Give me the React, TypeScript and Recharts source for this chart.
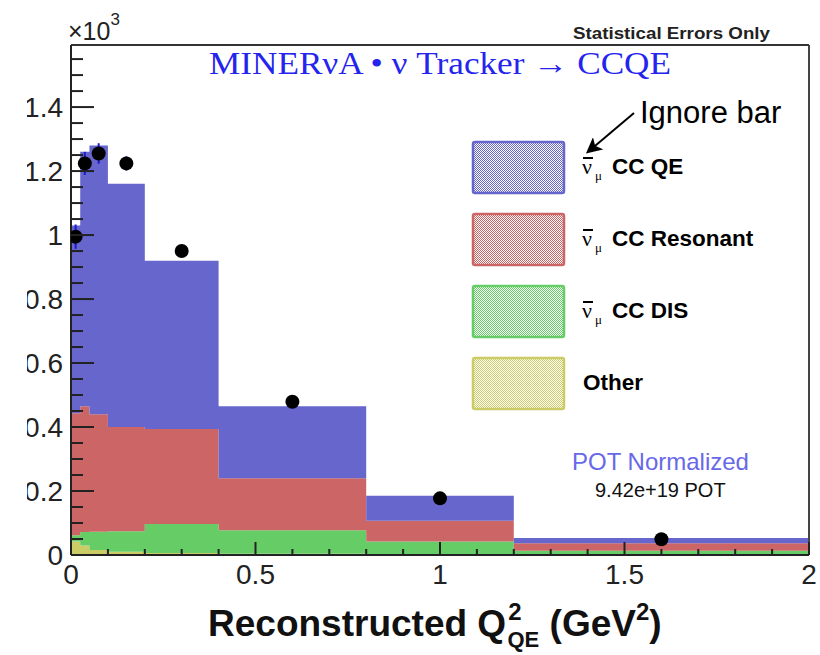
import React from "react";
import {
  ComposedChart,
  Area,
  Scatter,
  ErrorBar,
  XAxis,
  YAxis,
  ReferenceLine,
} from "recharts";

// bin edges of the reconstructed Q2 histogram (GeV^2)
const binEdges = [0, 0.025, 0.05, 0.1, 0.2, 0.4, 0.8, 1.2, 2.0];

// MC components per bin (events)
const ccqe = [587, 795, 840, 760, 526, 225, 78, 16];
const resonant = [381, 393, 367, 326, 297, 163, 65, 24];
const dis = [20, 42, 57, 64, 91, 73, 39, 11];
const other = [42, 30, 16, 10, 6, 4, 3, 2];

// data points
const dataX = [0.0125, 0.0375, 0.075, 0.15, 0.3, 0.6, 1.0, 1.6];
const dataY = [995, 1224, 1255, 1224, 950, 479, 177, 49];
const dataErr = [38, 36, 32, 22, 18, 12, 8, 4];

const Y_MAX = 1594;
const yTicks = Array.from({ length: 32 }, (_, i) => i * 50);
const xTicks = Array.from({ length: 21 }, (_, i) => i / 10);

const legendItems = [
  { label: "CC QE", color: "#6666cc", nu: true },
  { label: "CC Resonant", color: "#cc6666", nu: true },
  { label: "CC DIS", color: "#66cc66", nu: true },
  { label: "Other", color: "#cccc66", nu: false },
];

const histData = binEdges.map((x, i) => {
  const k = Math.min(i, ccqe.length - 1);
  return { x, other: other[k], dis: dis[k], res: resonant[k], qe: ccqe[k] };
});

const points = dataX.map((x, i) => ({ x, y: dataY[i], err: dataErr[i] }));

const SANS = "Liberation Sans, Arial, sans-serif";
const SERIF = "Liberation Serif, Times New Roman, serif";

const YTick = (props: any) => {
  const { x, y, payload } = props;
  const v = payload.value as number;
  const major = v % 200 === 0;
  const ax = x + 8;
  return (
    <g>
      <line x1={ax} x2={ax + (major ? 23 : 12)} y1={y} y2={y} stroke="#222" strokeWidth={2} />
      {major && (
        <text x={x} y={y} dy={10} textAnchor="end" fontSize={28} fill="#222" fontFamily={SANS}>
          {String(v / 1000)}
        </text>
      )}
    </g>
  );
};

const XTick = (props: any) => {
  const { x, y, payload } = props;
  const v = payload.value as number;
  const major = Math.round(v * 10) % 5 === 0;
  return (
    <g>
      <line x1={x} x2={x} y1={y} y2={y - (major ? 13 : 6)} stroke="#222" strokeWidth={2} />
      {major && (
        <text x={x} y={y + 29} textAnchor="middle" fontSize={28} fill="#222" fontFamily={SANS}>
          {String(v)}
        </text>
      )}
    </g>
  );
};

const Dot = (props: any) => <circle cx={props.cx} cy={props.cy} r={7} fill="#000" />;

export default function App() {
  return (
    <div style={{ position: "absolute", left: 0, top: 0, width: 820, height: 655, background: "#fff" }}>
      <ComposedChart
        width={820}
        height={655}
        data={histData}
        margin={{ top: 45, right: 11, bottom: 0, left: 0 }}
      >
        <Area dataKey="other" stackId="mc" type="stepAfter" fill="#cccc66" fillOpacity={1} stroke="none" isAnimationActive={false} />
        <Area dataKey="dis" stackId="mc" type="stepAfter" fill="#66cc66" fillOpacity={1} stroke="none" isAnimationActive={false} />
        <Area dataKey="res" stackId="mc" type="stepAfter" fill="#cc6666" fillOpacity={1} stroke="none" isAnimationActive={false} />
        <Area dataKey="qe" stackId="mc" type="stepAfter" fill="#6666cc" fillOpacity={1} stroke="none" isAnimationActive={false} />
        <Scatter data={points} dataKey="y" shape={Dot} isAnimationActive={false}>
          <ErrorBar dataKey="err" direction="y" width={0} stroke="#1a1acc" strokeWidth={2} isAnimationActive={false} />
        </Scatter>
        <XAxis
          dataKey="x"
          type="number"
          domain={[0, 2]}
          allowDataOverflow
          ticks={xTicks}
          interval={0}
          height={100}
          tickSize={0}
          tickMargin={0}
          tick={XTick}
          axisLine={{ stroke: "#222", strokeWidth: 2 }}
        />
        <YAxis
          type="number"
          domain={[0, Y_MAX]}
          allowDataOverflow
          ticks={yTicks}
          interval={0}
          width={71}
          tickSize={0}
          tickMargin={8}
          tick={YTick}
          axisLine={{ stroke: "#222", strokeWidth: 2 }}
        />
        <ReferenceLine y={Y_MAX} stroke="#333" strokeWidth={2} />
        <ReferenceLine x={2} stroke="#444" strokeWidth={2} />
      </ComposedChart>

      <svg width={820} height={655} style={{ position: "absolute", left: 0, top: 0, pointerEvents: "none" }}>
        <defs>
          {legendItems.map((it, i) => (
            <pattern key={i} id={`chk${i}`} width={2} height={2} patternUnits="userSpaceOnUse">
              <rect width={2} height={2} fill="#fff" />
              <rect width={1} height={1} fill={it.color} />
              <rect x={1} y={1} width={1} height={1} fill={it.color} />
            </pattern>
          ))}
          <marker id="head" markerWidth={8} markerHeight={8} refX={6} refY={4} orient="auto" markerUnits="strokeWidth">
            <path d="M0,0 L8,4 L0,8 L2,4 z" fill="#000" />
          </marker>
        </defs>

        <rect x={0} y={0} width={27} height={655} fill="#fff" />

        <text x={68} y={40} fontSize={25} fill="#222" fontFamily={SANS}>
          ×10<tspan dy={-15} fontSize={17}>3</tspan>
        </text>
        <text x={770} y={39} textAnchor="end" fontSize={17} fontWeight="bold" fill="#222" fontFamily={SANS} textLength={197} lengthAdjust="spacingAndGlyphs">
          Statistical Errors Only
        </text>
        <text x={440} y={74} textAnchor="middle" fontSize={31} fill="#2424ee" fontFamily={SERIF} textLength={462} lengthAdjust="spacingAndGlyphs">
          MINERνA • ν Tracker → CCQE
        </text>

        {legendItems.map((it, i) => {
          const top = 142 + i * 72;
          const base = top + 32;
          return (
            <g key={it.label}>
              <rect x={473} y={top} width={91} height={51} rx={2} fill={`url(#chk${i})`} stroke={it.color} strokeWidth={2.5} />
              {it.nu ? (
                <g>
                  <text x={582} y={base} fontSize={22} fontFamily={SERIF} fill="#000">ν</text>
                  <line x1={583} x2={593} y1={base - 16} y2={base - 16} stroke="#000" strokeWidth={2} />
                  <text x={595} y={base + 6} fontSize={13} fontFamily={SERIF} fill="#000">μ</text>
                  <text x={612} y={base} fontSize={22.5} fontWeight="bold" fontFamily={SANS} fill="#000">{it.label}</text>
                </g>
              ) : (
                <text x={583} y={base} fontSize={22.5} fontWeight="bold" fontFamily={SANS} fill="#000">{it.label}</text>
              )}
            </g>
          );
        })}

        <text x={640} y={123} fontSize={31} fill="#000" fontFamily={SANS}>Ignore bar</text>
        <line x1={634} y1={113} x2={589} y2={151} stroke="#000" strokeWidth={2} markerEnd="url(#head)" />

        <text x={572} y={470} fontSize={24} fill="#6868e8" fontFamily={SANS}>POT Normalized</text>
        <text x={595} y={497} fontSize={20} fill="#111" fontFamily={SANS}>9.42e+19 POT</text>

        <text x={208} y={636} fontSize={37} fontWeight="bold" fill="#111" fontFamily={SANS}>
          Reconstructed Q
          <tspan dx={2} dy={-16} fontSize={24}>2</tspan>
          <tspan dx={-14} dy={27} fontSize={22}>QE</tspan>
          <tspan dy={-11}> (GeV</tspan>
          <tspan dy={-16} fontSize={24}>2</tspan>
          <tspan dy={16}>)</tspan>
        </text>
      </svg>
    </div>
  );
}
